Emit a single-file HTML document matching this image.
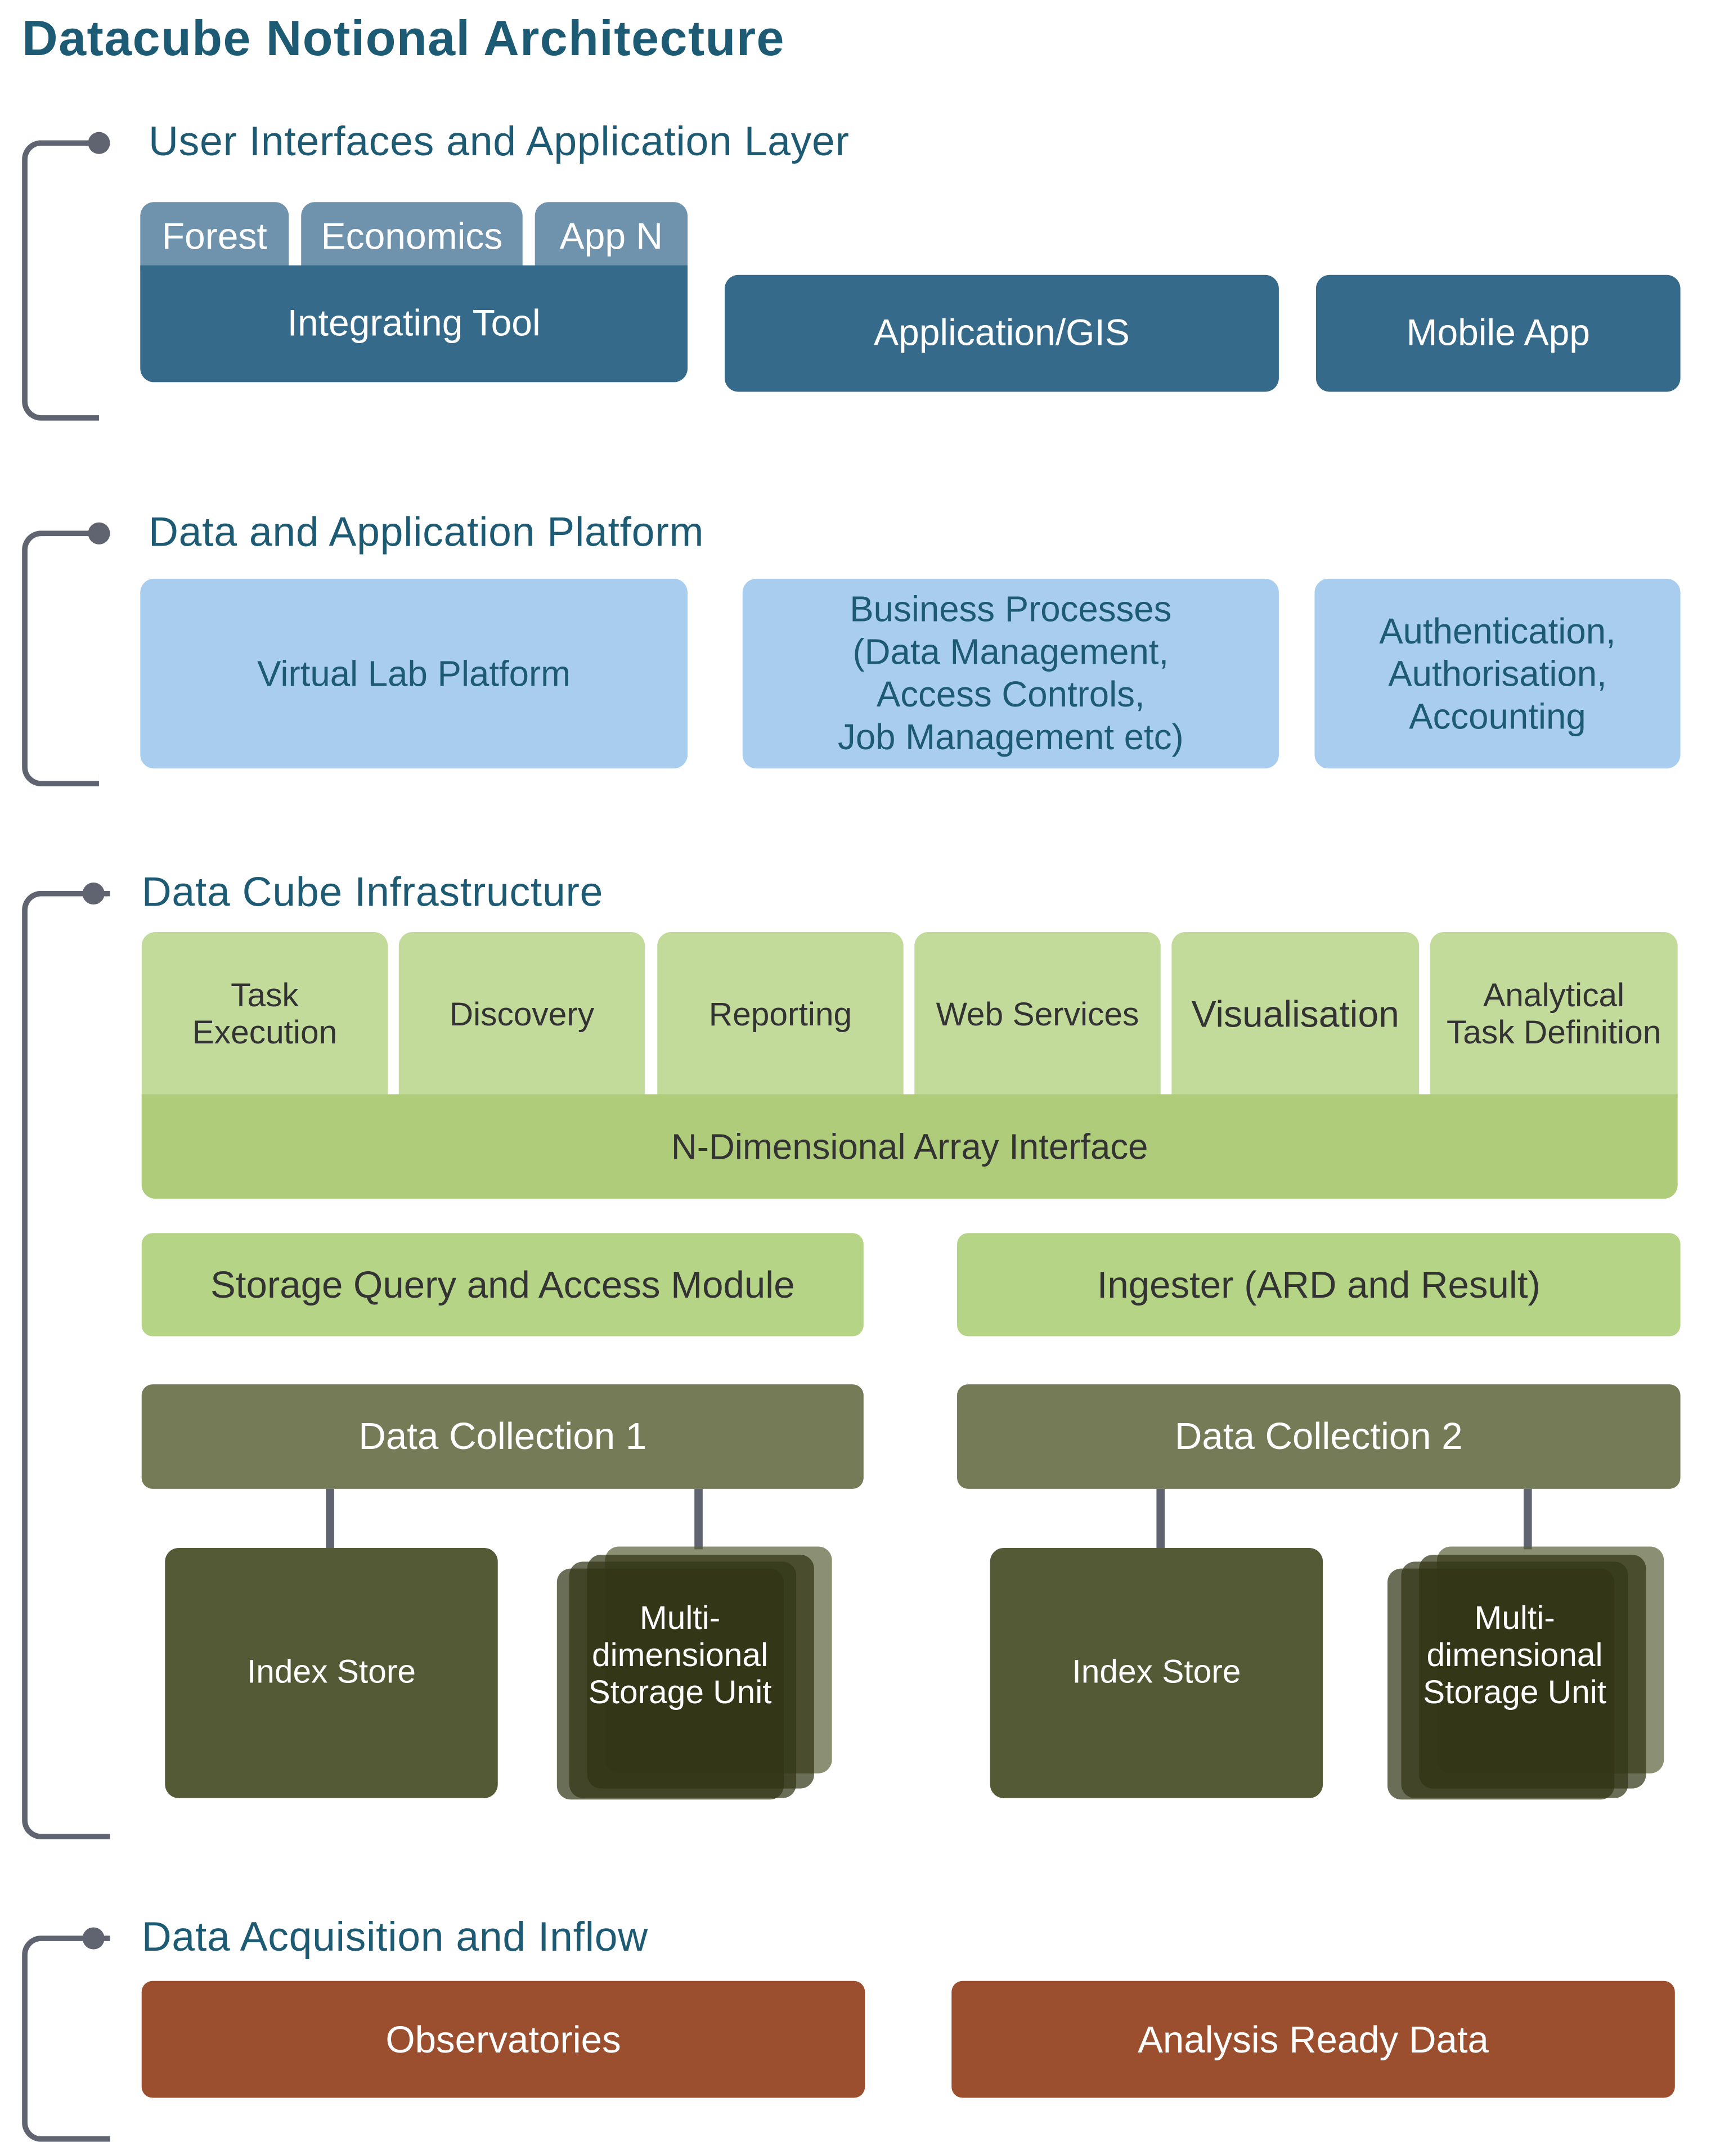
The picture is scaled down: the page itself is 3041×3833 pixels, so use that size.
<!DOCTYPE html>
<html><head><meta charset="utf-8"><style>
html,body{margin:0;padding:0;background:#fff;width:3041px;height:3833px;overflow:hidden}
#w{position:absolute;left:0;top:0;width:1240px;height:1563px;transform:scale(2.444);transform-origin:0 0;font-family:"Liberation Sans",sans-serif}
.a{position:absolute;display:flex;align-items:center;justify-content:center;text-align:center;box-sizing:border-box;white-space:nowrap}
.h{position:absolute;color:#1d5a73;font-size:30px;white-space:nowrap;line-height:1;letter-spacing:0.3px}
.br{position:absolute;border:4px solid #5f6470;border-right:none;border-radius:14px 0 0 14px;box-sizing:border-box}
.dot{position:absolute;width:16px;height:16px;border-radius:50%;background:#5f6470}
.tab{background:#6f93ad;color:#fff;font-size:27px;border-radius:10px 10px 0 0}
.dk{background:#356a8a;color:#fff;font-size:27px;border-radius:10px}
.lb{background:#a8cdef;color:#1d5a73;font-size:26px;line-height:31px;border-radius:10px}
.gt{background:#c2db9a;color:#333;font-size:24px;line-height:27px;border-radius:10px 10px 0 0}
.g2{background:#b5d486;color:#333;font-size:27.5px;border-radius:8px}
.dc{background:#747b56;color:#fff;font-size:27.5px;border-radius:8px}
.ix{background:#545a35;color:#fff;font-size:24px;border-radius:10px}
.ln{position:absolute;width:6px;background:#5f6470}
.ly{position:absolute;background:rgba(50,54,22,0.72);border-radius:10px}
.su{position:absolute;color:#fff;font-size:24px;line-height:27px;text-align:center;width:165px}
.rd{background:#9b4f2e;color:#fff;font-size:27.5px;border-radius:8px}
</style></head><body><div id="w">
<div style="position:absolute;left:16px;top:7px;font-size:36px;font-weight:bold;color:#1d5a73;white-space:nowrap;letter-spacing:0.6px">Datacube Notional Architecture</div>

<div class="br" style="left:16px;top:102px;width:56px;height:204px"></div><div class="dot" style="left:64px;top:96px"></div>
<div class="h" style="left:108px;top:89px">User Interfaces and Application Layer</div>
<div class="a tab" style="left:102px;top:147px;width:108px;height:50px">Forest</div>
<div class="a tab" style="left:219px;top:147px;width:161px;height:50px">Economics</div>
<div class="a tab" style="left:389px;top:147px;width:111px;height:50px">App N</div>
<div class="a dk" style="left:102px;top:193px;width:398px;height:85px;border-radius:0 0 10px 10px">Integrating Tool</div>
<div class="a dk" style="left:527px;top:200px;width:403px;height:85px">Application/GIS</div>
<div class="a dk" style="left:957px;top:200px;width:265px;height:85px">Mobile App</div>

<div class="br" style="left:16px;top:386px;width:56px;height:186px"></div><div class="dot" style="left:64px;top:380px"></div>
<div class="h" style="left:108px;top:373px">Data and Application Platform</div>
<div class="a lb" style="left:102px;top:421px;width:398px;height:138px">Virtual Lab Platform</div>
<div class="a lb" style="left:540px;top:421px;width:390px;height:138px">Business Processes<br>(Data Management,<br>Access Controls,<br>Job Management etc)</div>
<div class="a lb" style="left:956px;top:421px;width:266px;height:138px">Authentication,<br>Authorisation,<br>Accounting</div>

<div class="br" style="left:16px;top:648px;width:64px;height:690px"></div><div class="dot" style="left:60px;top:642px"></div>
<div class="h" style="left:103px;top:635px">Data Cube Infrastructure</div>
<div class="a gt" style="left:103px;top:678px;width:179px;height:120px">Task<br>Execution</div>
<div class="a gt" style="left:290px;top:678px;width:179px;height:120px">Discovery</div>
<div class="a gt" style="left:478px;top:678px;width:179px;height:120px">Reporting</div>
<div class="a gt" style="left:665px;top:678px;width:179px;height:120px">Web Services</div>
<div class="a gt" style="left:852px;top:678px;width:180px;height:120px;font-size:27px">Visualisation</div>
<div class="a gt" style="left:1040px;top:678px;width:180px;height:120px">Analytical<br>Task Definition</div>
<div class="a" style="left:103px;top:796px;width:1117px;height:76px;background:#afcc7a;color:#333;font-size:26px;border-radius:0 0 10px 10px">N-Dimensional Array Interface</div>
<div class="a g2" style="left:103px;top:897px;width:525px;height:75px">Storage Query and Access Module</div>
<div class="a g2" style="left:696px;top:897px;width:526px;height:75px">Ingester (ARD and Result)</div>
<div class="a dc" style="left:103px;top:1007px;width:525px;height:76px">Data Collection 1</div>
<div class="a dc" style="left:696px;top:1007px;width:526px;height:76px">Data Collection 2</div>
<div class="ln" style="left:237px;top:1083px;height:44px"></div>
<div class="ln" style="left:505px;top:1083px;height:44px"></div>
<div class="ln" style="left:841px;top:1083px;height:44px"></div>
<div class="ln" style="left:1108px;top:1083px;height:44px"></div>
<div class="a ix" style="left:120px;top:1126px;width:242px;height:182px">Index Store</div>
<div class="a ix" style="left:720px;top:1126px;width:242px;height:182px">Index Store</div>

<div class="ly" style="left:440px;top:1125px;width:165px;height:165px;background:rgba(90,95,55,0.7)"></div>
<div class="ly" style="left:427px;top:1131px;width:165px;height:170px"></div>
<div class="ly" style="left:414px;top:1136px;width:165px;height:172px"></div>
<div class="ly" style="left:405px;top:1141px;width:165px;height:168px"></div>
<div class="su" style="left:412px;top:1164px">Multi-<br>dimensional<br>Storage Unit</div>

<div class="ly" style="left:1045px;top:1125px;width:165px;height:165px;background:rgba(90,95,55,0.7)"></div>
<div class="ly" style="left:1032px;top:1131px;width:165px;height:170px"></div>
<div class="ly" style="left:1019px;top:1136px;width:165px;height:172px"></div>
<div class="ly" style="left:1009px;top:1141px;width:165px;height:168px"></div>
<div class="su" style="left:1019px;top:1164px">Multi-<br>dimensional<br>Storage Unit</div>

<div class="br" style="left:16px;top:1408px;width:64px;height:150px"></div><div class="dot" style="left:60px;top:1402px"></div>
<div class="h" style="left:103px;top:1395px">Data Acquisition and Inflow</div>
<div class="a rd" style="left:103px;top:1441px;width:526px;height:85px">Observatories</div>
<div class="a rd" style="left:692px;top:1441px;width:526px;height:85px">Analysis Ready Data</div>
</div></body></html>
